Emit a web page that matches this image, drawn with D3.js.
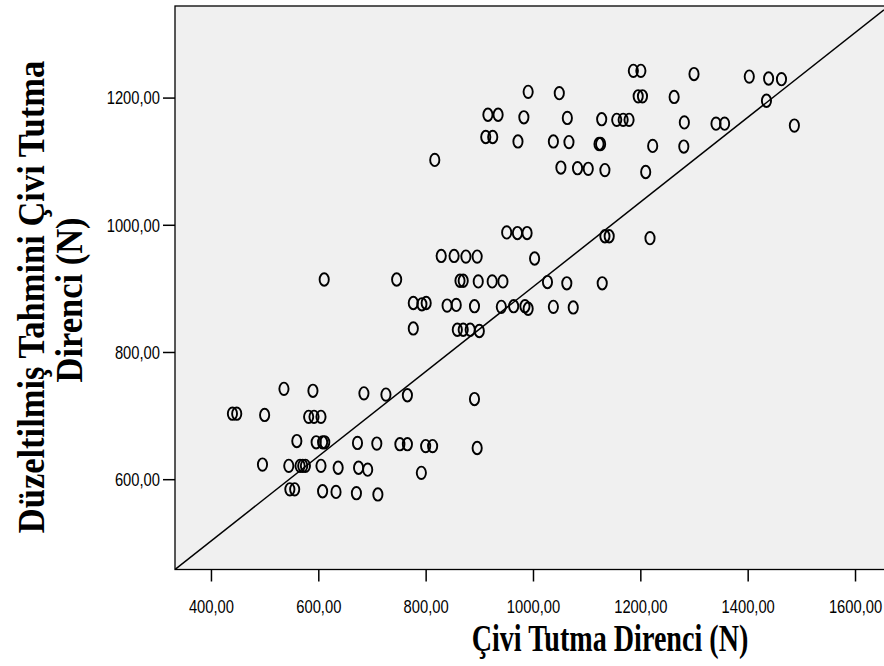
<!DOCTYPE html>
<html><head><meta charset="utf-8">
<script src="https://cdn.jsdelivr.net/npm/d3@7"></script>
<style>body{margin:0;background:#fff}</style></head>
<body><svg id="c" width="884" height="666"></svg>
<script>
// observed nail-holding resistance (x) vs adjusted predicted (y)
const xValues = [
 817,916,935,912,925,991,983,972,1049,1064,1038,1067,1052,1083,1103,1134,1128,1156,1168,1179,1123,1126,1187,1201,1196,1204,1300,1263,1282,1341,1357,1223,1281,1210,1403,1439,1463,1435,1487,
 951,971,989,1134,1142,1218,829,853,875,896,1003,611,746,864,870,898,924,944,1027,1063,1129,777,793,801,840,857,891,941,964,985,991,1038,1075,777,859,870,883,900,
 536,590,685,726,766,891,440,448,500,582,592,605,560,596,608,612,673,709,752,766,800,813,896,496,545,566,571,576,605,637,675,692,792,547,556,608,633,671,711
];
const yValues = [
 1102,1173,1173,1138,1138,1209,1169,1131,1207,1168,1131,1130,1090,1089,1088,1086,1166,1165,1165,1165,1127,1127,1242,1242,1202,1202,1237,1201,1161,1159,1159,1124,1123,1083,1233,1230,1229,1195,1156,
 988,987,987,982,982,979,951,951,950,950,947,914,914,912,912,911,911,911,910,908,908,877,875,877,873,874,872,871,872,872,868,871,870,837,835,835,835,833,
 742,739,735,733,732,726,703,703,701,698,698,698,660,658,658,658,657,656,655,655,652,652,649,623,621,621,621,621,621,618,618,615,610,584,584,581,580,578,576
];
const xTicks = [400,600,800,1000,1200,1400,1600];
const yTicks = [600,800,1000,1200];
const xDomain = [333,1654];
const yDomain = [458,1344];
const fitLineX = [333,1654];
const fitLineY = [458,1338];
const xTitle = "Çivi Tutma Direnci (N)";
const yTitleLines = ["Düzeltilmiş Tahmini Çivi Tutma","Direnci (N)"];

const svg = d3.select("#c");
const L=175, R=884, T=6, B=569.5;
const x = d3.scaleLinear().domain(xDomain).range([L,R]);
const y = d3.scaleLinear().domain(yDomain).range([B,T]);
const fmt = d => d3.format(".2f")(d).replace(".",",");

svg.append("rect").attr("x",0).attr("y",0).attr("width",884).attr("height",666).attr("fill","#fff");
svg.append("rect").attr("x",L).attr("y",T).attr("width",R-L+12).attr("height",B-T)
  .attr("fill","#f0f0f0").attr("stroke","#000").attr("stroke-width",1.3);

svg.append("defs").append("clipPath").attr("id","clip").append("rect")
  .attr("x",L).attr("y",T).attr("width",R-L).attr("height",B-T);

svg.append("line").attr("clip-path","url(#clip)")
  .attr("x1",x(fitLineX[0])).attr("y1",y(fitLineY[0]))
  .attr("x2",x(fitLineX[1])).attr("y2",y(fitLineY[1]))
  .attr("stroke","#000").attr("stroke-width",1.5);

svg.append("g").selectAll("ellipse").data(xValues.map((v,i)=>[v,yValues[i]])).join("ellipse")
  .attr("cx",d=>x(d[0])).attr("cy",d=>y(d[1])).attr("rx",4.6).attr("ry",6.2)
  .attr("fill","none").attr("stroke","#000").attr("stroke-width",1.9);

const xa = svg.append("g").attr("transform",`translate(0,${B})`)
  .call(d3.axisBottom(x).tickValues(xTicks).tickSize(12).tickFormat(fmt));
xa.select(".domain").remove();
xa.selectAll("line").attr("stroke","#000").attr("stroke-width",1.5);
xa.selectAll("text").attr("y",37.5).attr("dy","0.35em")
  .attr("transform","scale(0.82,1)")
  .style("font-family","'Liberation Sans', Arial, sans-serif").style("font-size","18px").attr("fill","#000");

const ya = svg.append("g").attr("transform",`translate(${L},0)`)
  .call(d3.axisLeft(y).tickValues(yTicks).tickSize(12).tickFormat(fmt));
ya.select(".domain").remove();
ya.selectAll("line").attr("stroke","#000").attr("stroke-width",1.5);
ya.selectAll("text").attr("x",-15/0.82).attr("dy","0.35em")
  .attr("transform","scale(0.82,1)")
  .style("font-family","'Liberation Sans', Arial, sans-serif").style("font-size","18px").attr("fill","#000");

svg.append("text").attr("transform","translate(610,651) scale(0.74,1)")
  .attr("text-anchor","middle")
  .style("font-family","'Liberation Serif', 'Times New Roman', serif").style("font-weight","bold")
  .style("font-size","38px").text(xTitle);

const yPos = [[44,297],[82,300]];
yTitleLines.forEach((t,i)=>{
  svg.append("text").attr("transform",`translate(${yPos[i][0]},${yPos[i][1]}) rotate(-90) scale(1,1.1)`)
    .attr("text-anchor","middle")
    .style("font-family","'Liberation Serif', 'Times New Roman', serif").style("font-weight","bold")
    .style("font-size","34.5px").text(t);
});
</script></body></html>
